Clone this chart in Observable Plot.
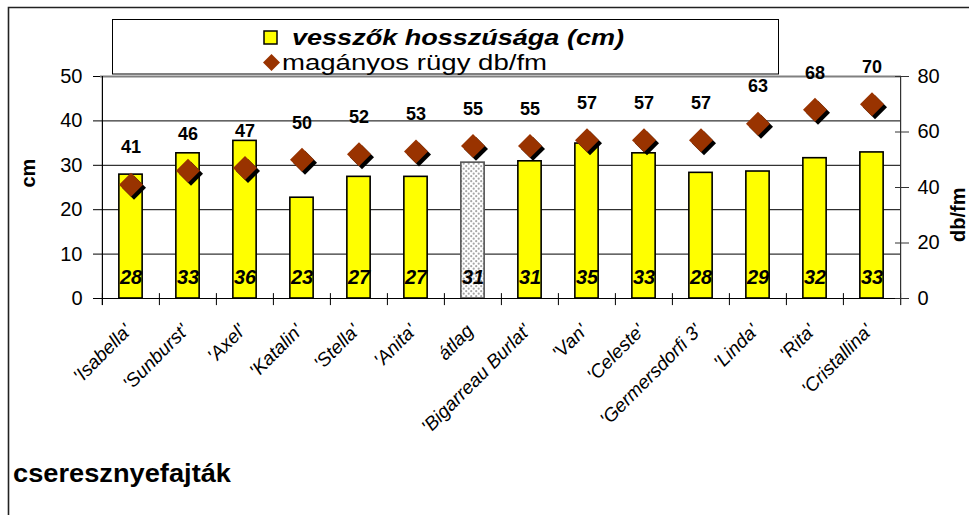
<!DOCTYPE html>
<html>
<head>
<meta charset="utf-8">
<script src="https://cdn.jsdelivr.net/npm/d3@7"></script>
<script src="https://cdn.jsdelivr.net/npm/@observablehq/plot@0.6"></script>
<style>
  html, body { margin: 0; padding: 0; background: #fff; }
  #wrap { position: relative; width: 969px; height: 515px; overflow: hidden; font-family: "Liberation Sans", Arial, sans-serif; }
  #chart { position: absolute; left: 0; top: 0; }
  #overlay { position: absolute; left: 0; top: 0; pointer-events: none; }
</style>
</head>
<body>
<div id="wrap">
  <div id="chart"></div>
  <svg id="overlay" width="969" height="515"></svg>
</div>
<script>
// ---- data ----
const categories = ["'Isabella'", "'Sunburst'", "'Axel'", "'Katalin'", "'Stella'", "'Anita'", "átlag", "'Bigarreau Burlat'", "'Van'", "'Celeste'", "'Germersdorfi 3'", "'Linda'", "'Rita'", "'Cristallina'"];
const vesszoHossz = [27.9, 32.7, 35.5, 22.7, 27.4, 27.4, 30.6, 30.9, 34.9, 32.7, 28.3, 28.6, 31.6, 32.9];
const rugySuruseg = [41, 46, 47, 50, 52, 53, 55, 55, 57, 57, 57, 63, 68, 70];
const leftTicks = [0, 10, 20, 30, 40, 50];
const rightTicks = [0, 20, 40, 60, 80];
const seriesNames = ["vesszők hosszúsága (cm)", "magányos rügy db/fm"];
const leftTitle = "cm";
const rightTitle = "db/fm";
const xTitle = "cseresznyefajták";
const averageCategory = "átlag";

const leftMax = 50, rightMax = 80;
const toLeft = v => v * leftMax / rightMax;

const data = categories.map((c, i) => ({cat: c, len: vesszoHossz[i], rugy: rugySuruseg[i]}));

// ---- layout ----
const W = 969, H = 515, mL = 100, mR = 68, mT = 76, mB = 217;
const step = (W - mL - mR) / categories.length;
const inset = (step - 23.5) / 2;
const font = "Liberation Sans, Arial, sans-serif";
const last = categories[categories.length - 1];

const plot = Plot.plot({
  width: W, height: H,
  marginLeft: mL, marginRight: mR, marginTop: mT, marginBottom: mB,
  x: {domain: categories, padding: 0, axis: null},
  y: {domain: [0, leftMax], axis: null},
  style: {fontFamily: font, fontSize: "20px", color: "#000", background: "transparent", overflow: "visible"},
  marks: [
    // gridlines
    Plot.ruleY([10, 20, 30, 40], {stroke: "#000", strokeWidth: 1}),
    Plot.ruleY([leftMax], {stroke: "#808080", strokeWidth: 2}),
    // bars
    Plot.barY(data.filter(d => d.cat !== averageCategory), {x: "cat", y: "len", fill: "#ffff00", stroke: "#000", strokeWidth: 1.6, insetLeft: inset, insetRight: inset}),
    Plot.barY(data.filter(d => d.cat === averageCategory), {x: "cat", y: "len", fill: "url(#dots)", stroke: "#555", strokeWidth: 1.6, insetLeft: inset, insetRight: inset}),
    // x axis line and category separator ticks
    Plot.ruleY([0], {stroke: "#000", strokeWidth: 1.2}),
    Plot.ruleX(categories, {dx: -step / 2, y1: -1.6, y2: 1.1, stroke: "#000", strokeWidth: 1}),
    Plot.ruleX([last], {dx: step / 2, y1: -1.6, y2: 1.1, stroke: "#000", strokeWidth: 1}),
    // vertical axis lines
    Plot.ruleX([categories[0]], {dx: -step / 2, y1: -1.6, y2: leftMax, stroke: "#000", strokeWidth: 1.2}),
    Plot.ruleX([last], {dx: step / 2, y1: -1.6, y2: leftMax, stroke: "#333", strokeWidth: 1.2}),
    // left axis
    Plot.axisY(leftTicks, {anchor: "left", tickSize: 7, tickPadding: 11, label: null, fontSize: 20, stroke: "#000"}),
    // right axis (crossing ticks)
    Plot.axisY(rightTicks.map(toLeft), {anchor: "right", tickSize: 7, dx: -7, tickFormat: () => "", label: null, stroke: "#333"}),
    Plot.axisY(rightTicks.map(toLeft), {anchor: "right", tickSize: 7, tickPadding: 9, tickFormat: d => Math.round(d * rightMax / leftMax), label: null, fontSize: 20, stroke: "#333"}),
    // diamonds with shadow
    Plot.dot(data, {x: "cat", y: d => toLeft(d.rugy), symbol: "diamond2", r: 10.8, fill: "#000", dx: 3, dy: 3}),
    Plot.dot(data, {x: "cat", y: d => toLeft(d.rugy), symbol: "diamond2", r: 10.8, fill: "#993300"}),
    // value labels
    Plot.text(data, {x: "cat", y: d => toLeft(d.rugy), text: d => String(d.rugy), dy: -37, fontWeight: "bold", fontSize: 18, fill: "#000"}),
    Plot.text(data, {x: "cat", y: 0, text: d => String(Math.round(d.len)), dy: -21, fontWeight: "bold", fontStyle: "italic", fontSize: 20, fill: "#000"}),
    // category labels
    Plot.text(categories, {x: d => d, y: 0, text: d => d, rotate: -45, textAnchor: "end", lineAnchor: "top", dx: -8, dy: 24, fontStyle: "italic", fontSize: 19, fill: "#000"}),
    // axis titles
    Plot.text([leftTitle], {frameAnchor: "left", text: d => d, rotate: -90, dx: -72, fontWeight: "bold", fontSize: 20, fill: "#000"}),
    Plot.text([rightTitle], {frameAnchor: "right", text: d => d, rotate: -90, dx: 57, fontWeight: "bold", fontSize: 20, fill: "#000"})
  ]
});

// dotted pattern for the average bar
const defs = d3.select(plot).insert("defs", ":first-child");
const pat = defs.append("pattern").attr("id", "dots").attr("patternUnits", "userSpaceOnUse").attr("width", 5).attr("height", 5);
pat.append("rect").attr("width", 5).attr("height", 5).attr("fill", "#fff");
pat.append("circle").attr("cx", 1.2).attr("cy", 1.2).attr("r", 1.1).attr("fill", "#a6a6a6");
pat.append("circle").attr("cx", 3.7).attr("cy", 3.7).attr("r", 1.1).attr("fill", "#a6a6a6");

document.getElementById("chart").appendChild(plot);

// ---- overlay: outer frame, legend, x title ----
const ov = d3.select("#overlay");
ov.append("path").attr("d", "M8.5,600 V7.5 H1000").attr("fill", "none").attr("stroke", "#222").attr("stroke-width", 1.6);

const lg = ov.append("g").attr("transform", "translate(112,19)");
lg.append("rect").attr("x", 0.5).attr("y", 0.5).attr("width", 666).attr("height", 54.5).attr("fill", "#fff").attr("stroke", "#000").attr("stroke-width", 1);
lg.append("rect").attr("x", 152).attr("y", 12).attr("width", 13).attr("height", 13).attr("fill", "#ffff00").attr("stroke", "#000").attr("stroke-width", 1.5);
lg.append("text").attr("x", 180).attr("y", 25.5).attr("font-family", font).attr("font-size", 22).attr("font-weight", "bold").attr("font-style", "italic")
  .attr("textLength", 332).attr("lengthAdjust", "spacingAndGlyphs").text(seriesNames[0]);
lg.append("path").attr("d", "M159.5,35 L168,43.5 L159.5,52 L151,43.5 Z").attr("fill", "#993300");
lg.append("text").attr("x", 170).attr("y", 51).attr("font-family", font).attr("font-size", 22)
  .attr("textLength", 265).attr("lengthAdjust", "spacingAndGlyphs").text(seriesNames[1]);

ov.append("text").attr("x", 13).attr("y", 482).attr("font-family", font).attr("font-size", 25).attr("font-weight", "bold")
  .attr("textLength", 218).attr("lengthAdjust", "spacingAndGlyphs").text(xTitle);
</script>
</body>
</html>
